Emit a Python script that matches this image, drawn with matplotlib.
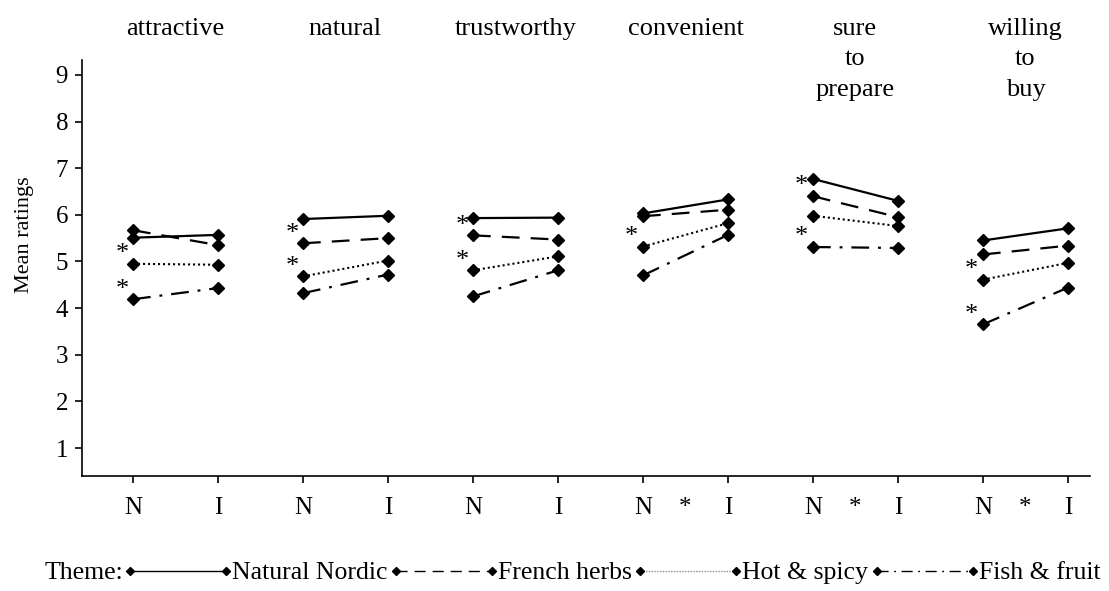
import numpy as np
import matplotlib
matplotlib.use("Agg")
import matplotlib.pyplot as plt
from matplotlib.lines import Line2D
from matplotlib.legend_handler import HandlerLine2D

plt.rcParams['font.family'] = ['Liberation Serif', 'DejaVu Serif']

# ---------------- data ----------------
attributes = ["attractive", "natural", "trustworthy", "convenient",
              "sure\nto\nprepare", "willing\nto\nbuy"]
conditions = ["N", "I"]
themes = ["Natural Nordic", "French herbs", "Hot & spicy", "Fish & fruit"]

natural_nordic_N = [5.51, 5.91, 5.93, 6.03, 6.77, 5.45]
natural_nordic_I = [5.57, 5.98, 5.94, 6.33, 6.30, 5.71]
french_herbs_N = [5.67, 5.39, 5.56, 5.97, 6.40, 5.15]
french_herbs_I = [5.35, 5.50, 5.47, 6.11, 5.95, 5.34]
hot_spicy_N = [4.95, 4.68, 4.81, 5.32, 5.98, 4.61]
hot_spicy_I = [4.93, 5.02, 5.11, 5.82, 5.76, 4.97]
fish_fruit_N = [4.19, 4.32, 4.25, 4.70, 5.31, 3.65]
fish_fruit_I = [4.43, 4.72, 4.81, 5.57, 5.29, 4.44]

# significance stars next to N points (per attribute, which themes)
star_themes = [["Hot & spicy", "Fish & fruit"],
               ["French herbs", "Hot & spicy"],
               ["French herbs", "Hot & spicy"],
               ["Hot & spicy"],
               ["French herbs", "Fish & fruit"],
               ["Hot & spicy", "Fish & fruit"]]
interaction_star = [False, False, False, True, True, True]

yticks = [1, 2, 3, 4, 5, 6, 7, 8, 9]

# ---------------- figure ----------------
W, H = 1109, 591
fig = plt.figure(figsize=(W / 100, H / 100), dpi=100)
ax = fig.add_axes([82 / W, (H - 476) / H, 1008 / W, 416 / H])

values = {
    "Natural Nordic": (natural_nordic_N, natural_nordic_I),
    "French herbs": (french_herbs_N, french_herbs_I),
    "Hot & spicy": (hot_spicy_N, hot_spicy_I),
    "Fish & fruit": (fish_fruit_N, fish_fruit_I),
}
styles = {
    "Natural Nordic": dict(linestyle='-', lw=1.6),
    "French herbs": dict(linestyle=(0, (8, 5)), lw=1.6),
    "Hot & spicy": dict(linestyle=(0, (1, 1.4)), lw=1.5),
    "Fish & fruit": dict(linestyle=(0, (8, 4, 1.3, 4)), lw=1.6),
}

for t in themes:
    vn, vi = values[t]
    for g in range(len(attributes)):
        ax.plot([2 * g, 2 * g + 1], [vn[g], vi[g]], color='black',
                marker='D', ms=6, mec='black', mfc='black',
                solid_capstyle='butt', dash_capstyle='butt', **styles[t])

for g, sts in enumerate(star_themes):
    for t in sts:
        vn = values[t][0][g]
        ax.annotate('*', xy=(2 * g, vn), xytext=(-8, 7),
                    textcoords='offset points', ha='center', va='center',
                    fontsize=19)

xpos = np.arange(2 * len(attributes))
ax.set_xticks(xpos)
ax.set_xticklabels(conditions * len(attributes), fontsize=18)
ax.set_yticks(yticks)
ax.set_yticklabels([str(v) for v in yticks], fontsize=18)
ax.set_xlim(-0.6, 11.26)
ax.set_ylim(0.40, 9.32)

for s in ['top', 'right']:
    ax.spines[s].set_visible(False)
for s in ['left', 'bottom']:
    ax.spines[s].set_linewidth(1.2)
ax.tick_params(axis='both', direction='out', length=5, width=1.2, colors='black')
ax.tick_params(axis='x', pad=10)
ax.tick_params(axis='y', pad=5)

ax.set_ylabel("Mean ratings", fontsize=16)
ax.yaxis.set_label_coords(-0.0476, 0.58)

xtr = ax.get_xaxis_transform()
for g, name in enumerate(attributes):
    ax.text(2 * g + 0.5, 1.101, name, transform=xtr, ha='center', va='top',
            fontsize=19, multialignment='center', linespacing=1.5)
    if interaction_star[g]:
        ax.text(2 * g + 0.5, -0.0502, '*', transform=xtr, ha='center',
                va='top', fontsize=18)

# legend
handles = []
for t in themes:
    st = styles[t]
    col = '0.55' if t == "Hot & spicy" else 'black'
    ls = (0, (1, 1)) if t == "Hot & spicy" else st['linestyle']
    handles.append(Line2D([], [], color=col, lw=1.0, linestyle=ls,
                          marker='D', ms=4, mfc='black', mec='black'))
fig.text(45 / W, 1 - 573 / H, "Theme:", ha='left', va='center', fontsize=18.5)
fig.legend(handles, themes, loc='center left',
           bbox_to_anchor=(130 / W, 1 - 573 / H), ncol=4, frameon=False,
           fontsize=18.5, handlelength=3.74, handletextpad=0.23,
           columnspacing=0.33, borderpad=0, borderaxespad=0, numpoints=2,
           handler_map={Line2D: HandlerLine2D(marker_pad=0)})

fig.savefig("out.png", dpi=100)
